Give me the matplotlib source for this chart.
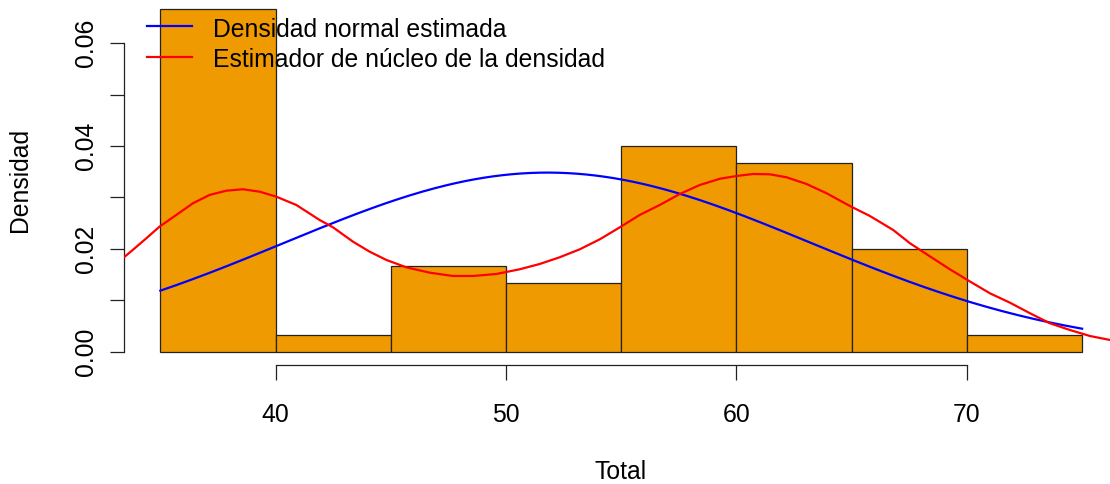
import numpy as np
import matplotlib.pyplot as plt
from matplotlib.lines import Line2D

# ---------- Data ----------

# histogram of "Total" (bin edges and densities, n = 60)
bin_edges = [35, 40, 45, 50, 55, 60, 65, 70, 75]
bin_counts = [20, 1, 5, 4, 12, 11, 6, 1]
n_obs = 60

# fitted normal
norm_mean = 51.8
norm_sd = 11.45

# kernel density estimate
kde_x = [33.37, 33.80, 34.39, 34.96, 35.69, 36.41, 37.13, 37.86, 38.58, 39.31,
         40.03, 40.90, 41.91, 42.49, 43.36, 44.08, 44.81, 45.67, 46.69, 47.70,
         48.57, 49.58, 50.59, 51.46, 52.33, 53.20, 54.07, 54.94, 55.80, 56.67,
         57.54, 58.41, 59.28, 60.00, 60.72, 61.45, 62.17, 63.04, 63.91, 64.92,
         65.79, 66.80, 67.53, 68.39, 69.26, 70.06, 71.00, 71.87, 72.74, 73.60,
         74.47, 75.34, 76.21, 76.60]
kde_y = [0.01817, 0.01979, 0.02206, 0.02432, 0.02660, 0.02887, 0.03049, 0.03132, 0.03160, 0.03113,
         0.03016, 0.02854, 0.02562, 0.02420, 0.02140, 0.01946, 0.01784, 0.01642, 0.01537, 0.01473,
         0.01473, 0.01512, 0.01603, 0.01706, 0.01837, 0.01992, 0.02187, 0.02420, 0.02660, 0.02854,
         0.03068, 0.03243, 0.03364, 0.03418, 0.03457, 0.03451, 0.03393, 0.03263, 0.03082, 0.02835,
         0.02640, 0.02368, 0.02109, 0.01856, 0.01603, 0.01385, 0.01136, 0.00953, 0.00747, 0.00553,
         0.00422, 0.00305, 0.00228, 0.00200]

legend_labels = ["Densidad normal estimada", "Estimador de núcleo de la densidad"]
x_label = "Total"
y_label = "Densidad"

OUTPUT_PNG = "out.png"

FONT = "Liberation Sans"
FS = 17.8


def main():
    plt.rcParams["font.family"] = [FONT, "DejaVu Sans"]

    W, H = 1110, 484
    fig = plt.figure(figsize=(W / 100, H / 100), dpi=100)

    # plot region in pixels: left 123.5, right 1119, top -4.7, bottom 365.4
    left, right, top, bottom = 123.5, 1119.0, -4.7, 365.4
    ax = fig.add_axes([left / W, 1 - bottom / H, (right - left) / W, (bottom - top) / H])

    widths = np.diff(bin_edges)
    dens = np.array(bin_counts) / (n_obs * widths)
    ax.bar(bin_edges[:-1], dens, width=widths, align="edge",
           color="#EE9A00", edgecolor="#222222", linewidth=0.9, zorder=2)

    xs = np.linspace(bin_edges[0], bin_edges[-1], 300)
    ys = np.exp(-0.5 * ((xs - norm_mean) / norm_sd) ** 2) / (norm_sd * np.sqrt(2 * np.pi))
    ax.plot(xs, ys, color="#0000FF", lw=1.6, zorder=3)
    ax.plot(kde_x, kde_y, color="#FF0000", lw=1.6, zorder=4)

    ax.set_xlim(33.4, 76.6)
    ax.set_ylim(-0.002667, 0.069333)

    # R-style axes: lines only between first and last tick
    for s in ("top", "right"):
        ax.spines[s].set_visible(False)
    ax.spines["left"].set_bounds(0, 0.06)
    ax.spines["bottom"].set_bounds(40, 70)
    for s in ("left", "bottom"):
        ax.spines[s].set_linewidth(0.9)
        ax.spines[s].set_color("#222222")

    ax.set_xticks([40, 50, 60, 70])
    ax.set_xticklabels(["40", "50", "60", "70"])
    yt = [0.0, 0.01, 0.02, 0.03, 0.04, 0.05, 0.06]
    ax.set_yticks(yt)
    ax.set_yticklabels(["0.00", "", "0.02", "", "0.04", "", "0.06"],
                       rotation=90, va="center")
    ax.tick_params(axis="x", length=10.8, width=0.9, color="#222222",
                   labelsize=FS, pad=16.5)
    ax.tick_params(axis="y", length=10.2, width=0.9, color="#222222",
                   labelsize=FS, pad=8.0)

    fig.text(621 / W, 1 - 472 / H, x_label, fontsize=FS, ha="center", va="center")
    fig.text(20 / W, 1 - 180 / H, y_label, fontsize=FS, ha="center", va="center",
             rotation=90)

    # legend without box
    for i, (lab, col) in enumerate(zip(legend_labels, ["#0000FF", "#FF0000"])):
        ly = 26 + 30.5 * i
        fig.add_artist(Line2D([147 / W, 192 / W], [1 - ly / H, 1 - ly / H],
                              color=col, lw=1.6, transform=fig.transFigure))
        fig.text(213 / W, 1 - (ly + 10.8) / H, lab, fontsize=FS,
                 ha="left", va="baseline")

    fig.savefig(OUTPUT_PNG, dpi=100)
    plt.close(fig)


if __name__ == "__main__":
    main()
